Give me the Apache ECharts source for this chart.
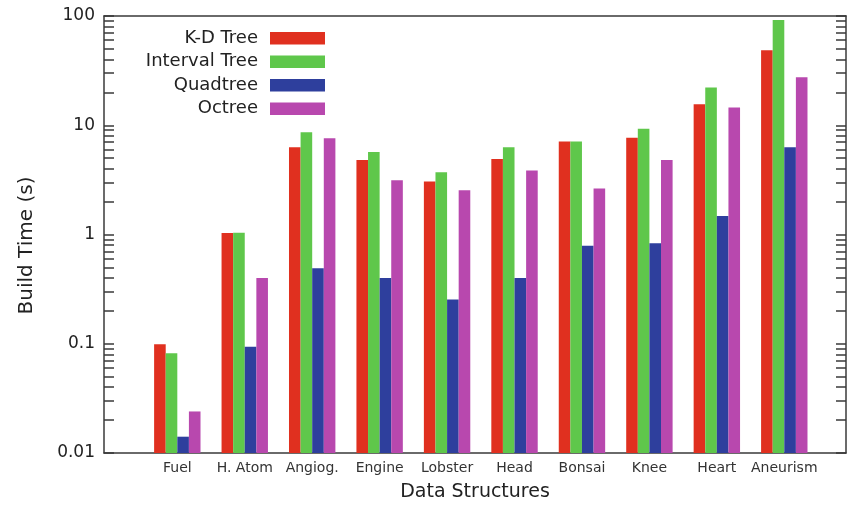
<!DOCTYPE html>
<html>
<head>
<meta charset="utf-8">
<script src="https://cdn.jsdelivr.net/npm/echarts@6/dist/echarts.min.js"></script>
<style>html,body{margin:0;padding:0;background:#fff;}#c{width:849px;height:507px;}</style>
</head>
<body>
<div id="c"></div>
<script>
const categories = ['Fuel', 'H. Atom', 'Angiog.', 'Engine', 'Lobster', 'Head', 'Bonsai', 'Knee', 'Heart', 'Aneurism'];
const seriesNames = ['K-D Tree', 'Interval Tree', 'Quadtree', 'Octree'];
const kdTree = [0.099, 1.03, 6.3, 4.8, 3.06, 4.9, 7.1, 7.7, 15.6, 48.7];
const intervalTree = [0.082, 1.04, 8.65, 5.7, 3.72, 6.3, 7.1, 9.3, 22.2, 92];
const quadtree = [0.0141, 0.094, 0.49, 0.40, 0.254, 0.40, 0.79, 0.83, 1.48, 6.3];
const octree = [0.024, 0.40, 7.6, 3.13, 2.54, 3.85, 2.64, 4.8, 14.5, 27.5];
const yTickLabels = ['0.01', '0.1', '1', '10', '100'];
const colors = ['#e0301f', '#5fc74b', '#2e3f9d', '#b848ae'];

const allValues = [kdTree, intervalTree, quadtree, octree];
const minorTicks = [];
[0.01, 0.1, 1, 10].forEach(d => { for (let k = 1; k < 10; k++) minorTicks.push(+(d * k).toPrecision(3)); });
minorTicks.push(100);

const font = 'DejaVu Sans';
const axisColor = '#3a3a3a';

const chart = echarts.init(document.getElementById('c'), null, {renderer: 'canvas'});
const yCommon = {
  type: 'log', logBase: 10, min: 0.01, max: 100, startValue: 0.01,
  splitLine: {show: false},
  axisLine: {show: true, onZero: false, lineStyle: {color: axisColor, width: 1.5}},
  axisTick: {show: true, inside: true, length: 10, customValues: minorTicks, lineStyle: {color: axisColor, width: 1.5}}
};
chart.setOption({
  animation: false,
  textStyle: {fontFamily: font},
  grid: {left: 104, right: 3, top: 16, bottom: 51, containLabel: false},
  legend: {
    orient: 'vertical', align: 'right', right: 524, top: 29.3, padding: 0,
    itemWidth: 55, itemHeight: 12.5, itemGap: 5.5,
    icon: 'rect',
    textStyle: {fontFamily: font, fontSize: 18, lineHeight: 18, color: '#222', padding: [0, 7, 0, 0]},
    data: seriesNames
  },
  xAxis: [{
    type: 'value', min: -1.087, max: 9.915,
    name: 'Data Structures', nameLocation: 'middle', nameGap: 30,
    nameTextStyle: {fontFamily: font, fontSize: 19, color: '#222'},
    splitLine: {show: false},
    axisLine: {show: true, onZero: false, lineStyle: {color: axisColor, width: 1.5}},
    axisTick: {show: false},
    axisLabel: {
      customValues: categories.map((c, i) => i),
      formatter: v => categories[Math.round(v)] || '',
      fontFamily: font, fontSize: 14, color: '#333', margin: 8
    }
  }, {
    type: 'value', min: -1.087, max: 9.915, position: 'top',
    splitLine: {show: false},
    axisLine: {show: true, onZero: false, lineStyle: {color: axisColor, width: 1.5}},
    axisTick: {show: false}, axisLabel: {show: false}
  }],
  yAxis: [Object.assign({}, yCommon, {
    position: 'left',
    name: 'Build Time (s)', nameLocation: 'middle', nameGap: 67,
    nameTextStyle: {fontFamily: font, fontSize: 20, color: '#222', padding: [0, 22, 0, 0]},
    axisLabel: {
      customValues: yTickLabels.map(Number),
      formatter: v => { const s = yTickLabels.find(t => Math.abs(Number(t) - v) < 1e-9 * Math.max(1, v)); return s || ''; },
      fontFamily: font, fontSize: 17, color: '#222', margin: 9
    }
  }), Object.assign({}, yCommon, {
    position: 'right',
    axisLabel: {show: false}
  })],
  series: seriesNames.map((name, si) => ({
    name, type: 'bar', xAxisIndex: 0, yAxisIndex: 0,
    barWidth: 11.6, barGap: '0%',
    itemStyle: {color: colors[si]},
    data: allValues[si].map((v, i) => [i, v])
  }))
});
</script>
</body>
</html>
